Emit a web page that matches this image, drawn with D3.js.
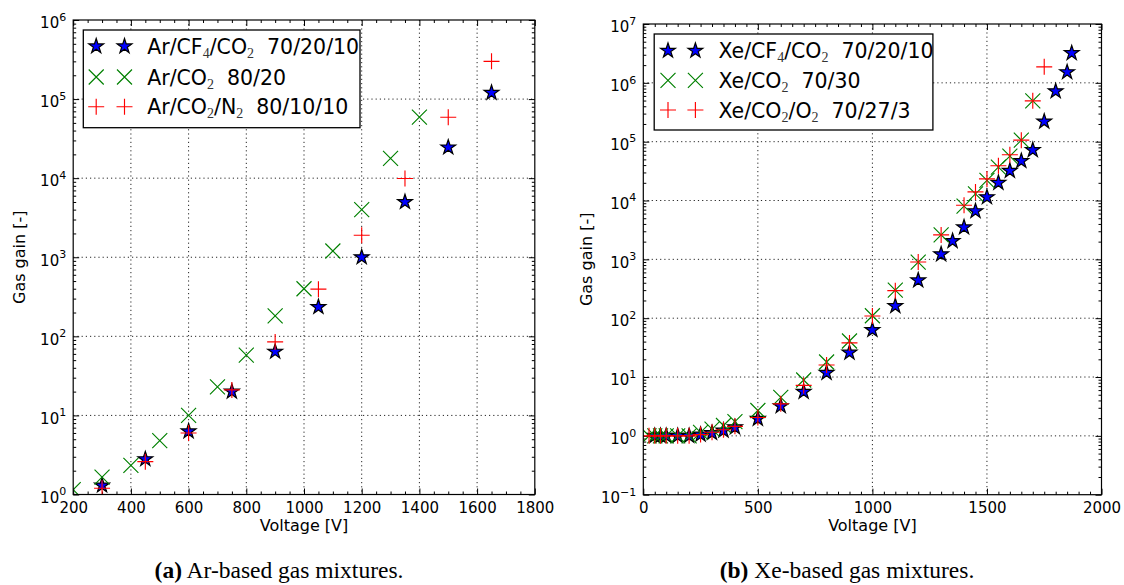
<!DOCTYPE html>
<html>
<head>
<meta charset="utf-8">
<script src="https://cdn.jsdelivr.net/npm/d3@7"></script>
<style>
  body { margin: 0; background: #ffffff; }
  svg { display: block; }
</style>
</head>
<body>
<svg id="fig" width="1124" height="585"></svg>
<script>
// ---- Ar-based gas mixtures (panel a) ----
const arStarVolt = [300, 450, 600, 750, 900, 1050, 1200, 1350, 1500, 1650];
const arStarGain = [1.3, 2.8, 6.3, 20, 64, 235, 1000, 5000, 24500, 120000];
const arCrossVolt = [200, 300, 400, 500, 600, 700, 800, 900, 1000, 1100, 1200, 1300, 1400];
const arCrossGain = [1.15, 1.66, 2.33, 4.8, 10, 23, 58, 181, 400, 1200, 4000, 17800, 59000];
const arPlusVolt = [300, 450, 600, 750, 900, 1050, 1200, 1350, 1500, 1650];
const arPlusGain = [1.2, 2.6, 6.0, 21, 85, 395, 1900, 9900, 59000, 300000];
const arXTicks = [200, 400, 600, 800, 1000, 1200, 1400, 1600, 1800];
const arYTicks = [1, 10, 100, 1e3, 1e4, 1e5, 1e6];

// ---- Xe-based gas mixtures (panel b) ----
const xeStarVolt = [50, 75, 100, 150, 200, 250, 300, 350, 400, 500, 600, 700, 800, 900, 1000,
  1100, 1200, 1300, 1350, 1400, 1450, 1500, 1550, 1600, 1650, 1700, 1750, 1800, 1850, 1870];
const xeStarGain = [1.0, 1.0, 1.0, 1.0, 1.0, 1.05, 1.12, 1.23, 1.4, 1.95, 3.2, 5.6, 11.8, 26, 63,
  161, 440, 1220, 2050, 3500, 6600, 11400, 20000, 32000, 47000, 72000, 220000, 720000, 1520000, 3200000];
const xeCrossVolt = [25, 50, 75, 100, 150, 200, 250, 300, 350, 400, 500, 600, 700, 800, 900, 1000,
  1100, 1200, 1300, 1400, 1450, 1500, 1550, 1600, 1650, 1700];
const xeCrossGain = [1.0, 1.0, 1.0, 1.0, 1.0, 1.0, 1.15, 1.3, 1.5, 1.75, 2.7, 4.5, 8.9, 18, 41, 110,
  300, 900, 2600, 8000, 13000, 22000, 37000, 57000, 106000, 494000];
const xePlusVolt = [25, 50, 75, 100, 150, 200, 250, 300, 350, 400, 500, 600, 700, 800, 900, 1000,
  1100, 1200, 1300, 1400, 1450, 1500, 1550, 1600, 1650, 1700, 1750];
const xePlusGain = [1.0, 1.0, 1.0, 1.0, 1.0, 1.0, 1.05, 1.15, 1.27, 1.45, 2.05, 3.5, 7.2, 16, 38, 109,
  294, 900, 2600, 8300, 14000, 23300, 39000, 60000, 106000, 494000, 1870000];
const xeXTicks = [0, 500, 1000, 1500, 2000];
const xeYTicks = [0.1, 1, 10, 100, 1e3, 1e4, 1e5, 1e6, 1e7];

// legend labels, split into normal text and single-digit subscripts
const arLegend = [
  ["Ar/CF", "4", "/CO", "2", "  70/20/10"],
  ["Ar/CO", "2", "  80/20"],
  ["Ar/CO", "2", "/N", "2", "  80/10/10"]
];
const xeLegend = [
  ["Xe/CF", "4", "/CO", "2", "  70/20/10"],
  ["Xe/CO", "2", "  70/30"],
  ["Xe/CO", "2", "/O", "2", "  70/27/3"]
];

const SANS = "'DejaVu Sans', 'Bitstream Vera Sans', sans-serif";
const SERIF = "'Liberation Serif', 'Times New Roman', serif";
const BLUE = "#0000ff", GREEN = "#008000", RED = "#ff0000";

const svg = d3.select("#fig");
svg.append("rect").attr("width", 1124).attr("height", 585).attr("fill", "#fff");

const starPath = d3.symbol().type(d3.symbolStar).size(68)();
const crossPath = (a => `M${-a},${-a}L${a},${a}M${-a},${a}L${a},${-a}`)(7.5);
const plusPath = (a => `M${-a},0H${a}M0,${-a}V${a}`)(8);

function drawMarker(sel, kind) {
  if (kind === "star") {
    sel.append("path").attr("d", starPath)
      .attr("fill", BLUE).attr("stroke", "#000").attr("stroke-width", 1.2)
      .attr("stroke-linejoin", "miter");
  } else if (kind === "cross") {
    sel.append("path").attr("d", crossPath)
      .attr("fill", "none").attr("stroke", GREEN).attr("stroke-width", 1.15);
  } else {
    sel.append("path").attr("d", plusPath)
      .attr("fill", "none").attr("stroke", RED).attr("stroke-width", 1.15);
  }
}

function minorLog(lo, hi) {
  const out = [];
  for (let e = Math.round(Math.log10(lo)); e < Math.round(Math.log10(hi)); e++) {
    for (let k = 2; k <= 9; k++) out.push(k * Math.pow(10, e));
  }
  return out;
}
function range(a, b, s) { const out = []; for (let v = a; v <= b + 1e-9; v += s) out.push(v); return out; }

function panel(cfg) {
  const g = svg.append("g");
  const x = d3.scaleLinear().domain([cfg.xTicks[0], cfg.xTicks[cfg.xTicks.length - 1]]).range([cfg.x0, cfg.x1]);
  const y = d3.scaleLog().domain([cfg.yTicks[0], cfg.yTicks[cfg.yTicks.length - 1]]).range([cfg.y1, cfg.y0]);

  svg.append("clipPath").attr("id", cfg.id + "-clip")
    .append("rect").attr("x", cfg.x0).attr("y", cfg.y0)
    .attr("width", cfg.x1 - cfg.x0).attr("height", cfg.y1 - cfg.y0);

  // dotted grid at major ticks
  const grid = g.append("g").attr("stroke", "#000").attr("stroke-width", 1)
    .attr("stroke-dasharray", "1.2,3").attr("stroke-opacity", 0.85);
  grid.selectAll(".gx").data(cfg.xTicks.slice(1, -1)).join("line")
    .attr("x1", d => x(d)).attr("x2", d => x(d)).attr("y1", cfg.y0).attr("y2", cfg.y1);
  grid.selectAll(".gy").data(cfg.yTicks.slice(1, -1)).join("line")
    .attr("y1", d => y(d)).attr("y2", d => y(d)).attr("x1", cfg.x0).attr("x2", cfg.x1);

  // inward ticks on all four sides
  const xMinor = range(x.domain()[0], x.domain()[1], 50).filter(v => !cfg.xTicks.includes(v));
  const yMinor = minorLog(y.domain()[0], y.domain()[1]);
  const tickStyle = s => {
    s.select(".domain").remove();
    s.selectAll("line").attr("stroke", "#000").attr("stroke-width", 1);
  };
  g.append("g").attr("transform", `translate(0,${cfg.y1})`)
    .call(d3.axisBottom(x).tickValues(cfg.xTicks).tickSize(-6).tickPadding(7.5).tickFormat(d3.format("d")))
    .call(tickStyle)
    .call(s => s.selectAll("text").attr("font-family", SANS).attr("font-size", 15).attr("fill", "#000"));
  g.append("g").attr("transform", `translate(0,${cfg.y1})`)
    .call(d3.axisBottom(x).tickValues(xMinor).tickSize(-3).tickFormat("")).call(tickStyle);
  g.append("g").attr("transform", `translate(0,${cfg.y0})`)
    .call(d3.axisTop(x).tickValues(cfg.xTicks).tickSize(-6).tickFormat("")).call(tickStyle);
  g.append("g").attr("transform", `translate(0,${cfg.y0})`)
    .call(d3.axisTop(x).tickValues(xMinor).tickSize(-3).tickFormat("")).call(tickStyle);
  g.append("g").attr("transform", `translate(${cfg.x0},0)`)
    .call(d3.axisLeft(y).tickValues(cfg.yTicks).tickSize(-6).tickFormat("")).call(tickStyle);
  g.append("g").attr("transform", `translate(${cfg.x0},0)`)
    .call(d3.axisLeft(y).tickValues(yMinor).tickSize(-3).tickFormat("")).call(tickStyle);
  g.append("g").attr("transform", `translate(${cfg.x1},0)`)
    .call(d3.axisRight(y).tickValues(cfg.yTicks).tickSize(-6).tickFormat("")).call(tickStyle);
  g.append("g").attr("transform", `translate(${cfg.x1},0)`)
    .call(d3.axisRight(y).tickValues(yMinor).tickSize(-3).tickFormat("")).call(tickStyle);

  // decade labels 10^n
  const yl = g.append("g").attr("font-family", SANS).attr("fill", "#000");
  cfg.yTicks.forEach(v => {
    const e = Math.round(Math.log10(v));
    const t = yl.append("text").attr("x", cfg.x0 - 7).attr("y", y(v) + 8.3)
      .attr("text-anchor", "end").attr("font-size", 15);
    t.append("tspan").text("10");
    t.append("tspan").attr("dy", -7.5).attr("font-size", 11).text(e < 0 ? "\u2212" + (-e) : String(e));
  });

  // axis titles
  g.append("text").attr("x", (cfg.x0 + cfg.x1) / 2).attr("y", 530.5)
    .attr("text-anchor", "middle").attr("font-family", SANS).attr("font-size", 16)
    .text("Voltage [V]");
  g.append("text")
    .attr("transform", `translate(${cfg.yLabelX},${(cfg.y0 + cfg.y1) / 2}) rotate(-90)`)
    .attr("text-anchor", "middle").attr("font-family", SANS).attr("font-size", 16)
    .text("Gas gain [-]");

  // data markers
  const marks = g.append("g").attr("clip-path", `url(#${cfg.id}-clip)`);
  cfg.series.forEach(s => {
    marks.append("g").selectAll("g").data(s.volt.map((v, i) => [v, s.gain[i]])).join("g")
      .attr("transform", d => `translate(${x(d[0])},${y(d[1])})`)
      .each(function () { drawMarker(d3.select(this), s.kind); });
  });

  // frame
  g.append("rect").attr("x", cfg.x0).attr("y", cfg.y0)
    .attr("width", cfg.x1 - cfg.x0).attr("height", cfg.y1 - cfg.y0)
    .attr("fill", "none").attr("stroke", "#000").attr("stroke-width", 1.2);

  // legend
  const L = cfg.legend;
  const lg = g.append("g");
  lg.append("rect").attr("x", L.x0).attr("y", L.y0).attr("width", L.x1 - L.x0).attr("height", L.y1 - L.y0)
    .attr("fill", "#fff").attr("stroke", "#000").attr("stroke-width", 1.3);
  cfg.series.forEach((s, i) => {
    const cy = L.rows[i];
    L.markerX.forEach(mx => drawMarker(lg.append("g").attr("transform", `translate(${mx},${cy})`), s.kind));
    const t = lg.append("text").attr("x", L.textX).attr("y", cy + 7.5)
      .attr("font-family", SANS).attr("font-size", 20.5).attr("fill", "#000")
      .attr("xml:space", "preserve");
    const parts = L.labels[i];
    parts.forEach((p, k) => {
      const isSub = /^[0-9]$/.test(p) && k > 0 && k < parts.length - 1;
      const ts = t.append("tspan").text(p);
      if (isSub) {
        ts.attr("font-family", SERIF).attr("font-size", 14).attr("dy", 4).attr("fill", "#333");
      } else if (k > 0) {
        ts.attr("dy", -4);
      }
    });
  });

  // caption
  const cap = svg.append("text").attr("x", cfg.capX).attr("y", 578)
    .attr("text-anchor", "middle").attr("font-family", SERIF).attr("font-size", 23.5).attr("fill", "#000");
  cap.append("tspan").attr("font-weight", "bold").text(cfg.capTag);
  cap.append("tspan").text(" " + cfg.capText);
}

panel({
  id: "ar", x0: 73.2, x1: 534.8, y0: 20, y1: 494.5, yLabelX: 25,
  xTicks: arXTicks, yTicks: arYTicks,
  series: [
    { kind: "star", volt: arStarVolt, gain: arStarGain },
    { kind: "cross", volt: arCrossVolt, gain: arCrossGain },
    { kind: "plus", volt: arPlusVolt, gain: arPlusGain }
  ],
  legend: { x0: 83.3, x1: 360, y0: 30, y1: 127.7, rows: [46.3, 77, 106.7],
            markerX: [96.2, 124.5], textX: 147.2, labels: arLegend },
  capX: 279, capTag: "(a)", capText: "Ar-based gas mixtures."
});

panel({
  id: "xe", x0: 643.3, x1: 1101.5, y0: 24, y1: 494.7, yLabelX: 592,
  xTicks: xeXTicks, yTicks: xeYTicks,
  series: [
    { kind: "star", volt: xeStarVolt, gain: xeStarGain },
    { kind: "cross", volt: xeCrossVolt, gain: xeCrossGain },
    { kind: "plus", volt: xePlusVolt, gain: xePlusGain }
  ],
  legend: { x0: 654.2, x1: 932.9, y0: 34, y1: 130, rows: [50.7, 80.3, 110],
            markerX: [668, 695.4], textX: 718.4, labels: xeLegend },
  capX: 847, capTag: "(b)", capText: "Xe-based gas mixtures."
});
</script>
</body>
</html>
